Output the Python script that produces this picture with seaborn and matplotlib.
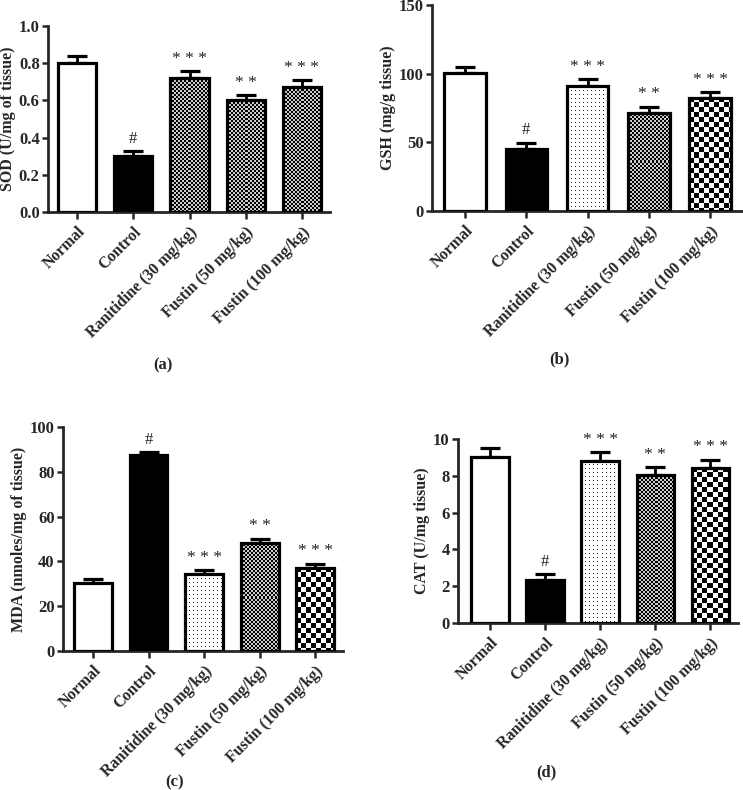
import numpy as np
import pandas as pd
import seaborn as sns
import matplotlib.pyplot as plt

groups = ['Normal', 'Control', 'Ranitidine (30 mg/kg)', 'Fustin (50 mg/kg)', 'Fustin (100 mg/kg)']

sod_mean = [0.80, 0.30, 0.72, 0.60, 0.67]
sod_err = [0.04, 0.03, 0.04, 0.03, 0.04]
gsh_mean = [100.5, 45.3, 91.0, 71.7, 82.4]
gsh_err = [4.2, 4.5, 4.8, 4.3, 4.0]
mda_mean = [30.3, 87.5, 34.2, 48.3, 37.2]
mda_err = [1.8, 1.2, 1.8, 1.9, 1.8]
cat_mean = [9.0, 2.35, 8.82, 8.03, 8.43]
cat_err = [0.52, 0.29, 0.45, 0.44, 0.45]

sig_a = ['', '#', '* * *', '* *', '* * *']
sig_b = ['', '#', '* * *', '* *', '* * *']
sig_c = ['', '#', '* * *', '* *', '* * *']
sig_d = ['', '#', '* * *', '* *', '* * *']

sns.set_style('ticks')
plt.rcParams['font.family'] = ['Liberation Serif', 'DejaVu Serif']
plt.rcParams['font.weight'] = 'bold'

fig = plt.figure(figsize=(7.43, 7.90), dpi=100)


def pattern(kind, w, h):
    # build a pixel texture for the bar fill
    i, j = np.indices((h, w))
    if kind == 'dots':
        img = 1.0 - ((i % 4 == 0) & (j % 4 == 0)) * 0.85
    elif kind == 'fine':
        img = ((i // 2 + j // 2) % 2) * 0.8
    elif kind == 'coarse':
        img = ((i // 5 + j // 5) % 2) * 1.0
    elif kind == 'black':
        img = np.zeros((h, w))
    else:
        img = np.ones((h, w))
    return img


def panel(rect, means, errs, sig, ylabel, ylim, yticks, fills, tag, tagpos, xlim):
    ax = fig.add_axes(rect)
    df = pd.DataFrame({'group': groups, 'value': means})
    sns.barplot(data=df, x='group', y='value', hue='group', palette=['white'] * 5,
                width=0.68, edgecolor='black', linewidth=2.3, legend=False, ax=ax, zorder=3)
    # only the upper half of the error bar is shown
    ax.errorbar(range(len(groups)), means, yerr=[np.zeros(len(errs)), errs], fmt='none',
                ecolor='black', elinewidth=2, capsize=7.5, capthick=2.3, zorder=2)
    ax.set_xlim(*xlim)
    ax.set_ylim(*ylim)
    ax.set_yticks(yticks)
    ax.set_xlabel('')
    ax.set_ylabel(ylabel, fontsize=11.5, fontweight='bold', labelpad=2)
    ax.tick_params(axis='y', labelsize=12, width=1.8, length=4, pad=2)
    ax.tick_params(axis='x', labelsize=11.5, width=1.8, length=5)
    for lab in ax.get_xticklabels():
        lab.set_rotation(45)
        lab.set_ha('right')
        lab.set_rotation_mode('anchor')
        lab.set_fontweight('bold')
    for lab in ax.get_yticklabels():
        lab.set_fontweight('bold')
    sns.despine(ax=ax)
    for s in ['left', 'bottom']:
        ax.spines[s].set_linewidth(2)

    fig.canvas.draw()
    for patch, kind in zip(ax.patches, fills):
        bb = patch.get_window_extent()
        w = max(int(round(bb.width)), 1)
        h = max(int(round(bb.height)), 1)
        x0, y0 = patch.get_x(), patch.get_y()
        im = ax.imshow(pattern(kind, w, h), cmap='gray', vmin=0, vmax=1,
                       extent=(x0, x0 + patch.get_width(), y0, y0 + patch.get_height()),
                       interpolation='nearest', aspect='auto', zorder=2.5)
        im.set_clip_path(patch)
        patch.set_facecolor('none')
    ax.set_xlim(*xlim)
    ax.set_ylim(*ylim)

    for k, s in enumerate(sig):
        if s:
            ax.annotate(s, (k, means[k] + errs[k]), xytext=(0, 3), textcoords='offset points',
                        ha='center', va='bottom', fontsize=12 if s == '#' else 12.5,
                        fontweight='normal', color='#222222')
    fig.text(tagpos[0], tagpos[1], tag, ha='center', va='center', fontsize=12, fontweight='bold')
    return ax


panel([0.0646, 0.7316, 0.3794, 0.2354], sod_mean, sod_err, sig_a, 'SOD (U/mg of tissue)',
      (0, 1.0), [0, 0.2, 0.4, 0.6, 0.8, 1.0], ['white', 'black', 'fine', 'fine', 'fine'],
      '(a)', (163 / 743, 1 - 365 / 790), (-0.52, 4.5))
panel([0.5814, 0.7329, 0.4173, 0.2608], gsh_mean, gsh_err, sig_b, 'GSH (mg/g tissue)',
      (0, 150), [0, 50, 100, 150], ['white', 'black', 'dots', 'fine', 'coarse'],
      '(b)', (559 / 743, 1 - 359 / 790), (-0.54, 4.52))
panel([0.0848, 0.1759, 0.3769, 0.2836], mda_mean, mda_err, sig_c, 'MDA (nmoles/mg of tissue)',
      (0, 100), [0, 20, 40, 60, 80, 100], ['white', 'black', 'dots', 'fine', 'coarse'],
      '(c)', (175 / 743, 1 - 782 / 790), (-0.54, 4.5))
panel([0.6164, 0.2114, 0.3769, 0.2329], cat_mean, cat_err, sig_d, 'CAT (U/mg tissue)',
      (0, 10), [0, 2, 4, 6, 8, 10], ['white', 'black', 'dots', 'fine', 'coarse'],
      '(d)', (546 / 743, 1 - 772 / 790), (-0.58, 4.5))

fig.savefig('out.png', dpi=100)
